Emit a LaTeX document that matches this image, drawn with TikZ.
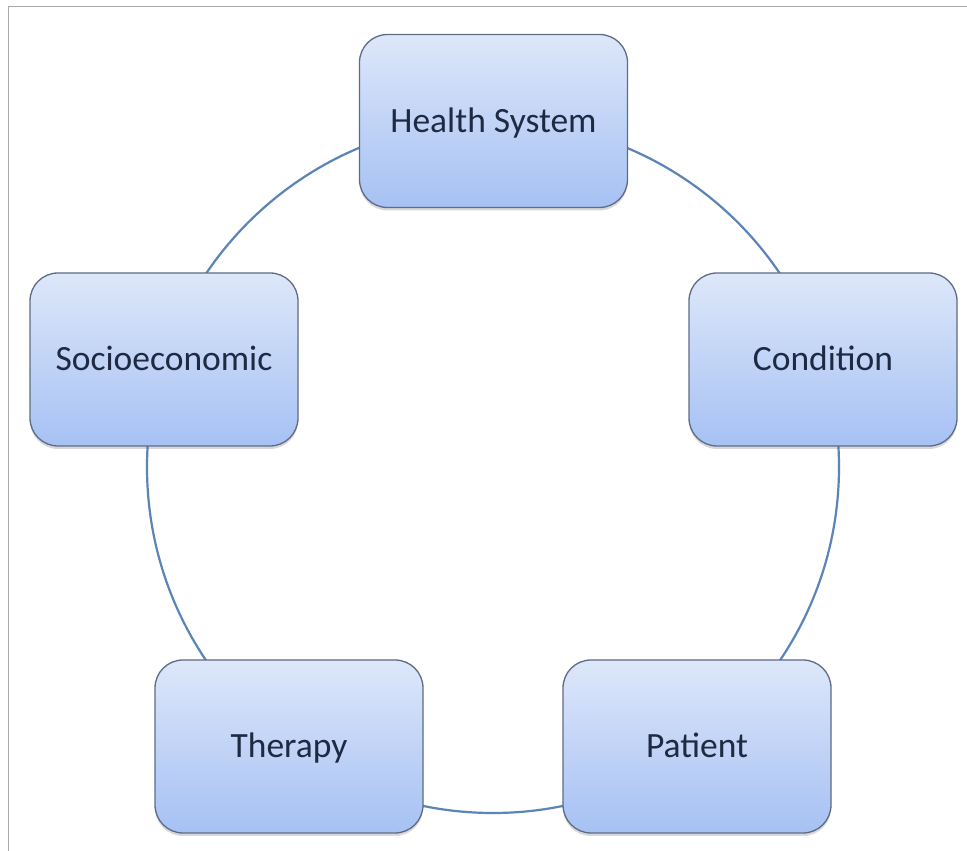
\documentclass[tikz,border=0pt]{standalone}
\usepackage{fontspec}
\setmainfont{Carlito}
\usetikzlibrary{shadows}
\definecolor{boxtop}{HTML}{DDE7F9}
\definecolor{boxbot}{HTML}{A6C1F4}
\definecolor{boxline}{HTML}{5E6C86}
\definecolor{ringc}{HTML}{5B84B8}
\definecolor{txt}{HTML}{1E2A42}
\definecolor{frame}{HTML}{AAAAAA}
\tikzset{
  factor/.style={draw=boxline, line width=1.3pt, rounded corners=28pt,
    minimum width=268pt, minimum height=173pt, inner sep=0pt,
    top color=boxtop, bottom color=boxbot,
    drop shadow={shadow xshift=0pt, shadow yshift=-3pt, opacity=0.25, fill=black!60},
    text=txt, font=\fontsize{35.5}{40}\selectfont,
    text height=23pt, text depth=0pt},
  ring/.style={draw=ringc, line width=2.2pt}
}
\begin{document}
\begin{tikzpicture}[x=1pt,y=1pt]
\useasboundingbox (0,0) rectangle (967,851);
\fill[white] (0,0) rectangle (967,851);
\draw[frame, line width=1.5pt] (8.5,0) -- (8.5,844.5) -- (967,844.5);
\draw[ring] (493,384) circle (346);
\node[factor] (health) at (493.5,730) {Health System};
\node[factor] (socio) at (164,491.5) {Socioeconomic};
\node[factor] (cond) at (823,491.5) {Condition};
\node[factor] (therapy) at (289,104.5) {Therapy};
\node[factor] (patient) at (697,104.5) {Patient};
\end{tikzpicture}
\end{document}
